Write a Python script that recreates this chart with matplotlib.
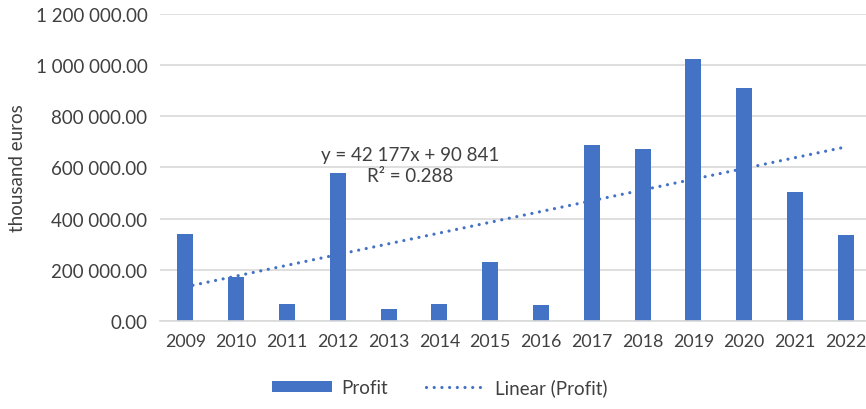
import numpy as np
import matplotlib
matplotlib.use("Agg")
import matplotlib.pyplot as plt
from matplotlib.ticker import FuncFormatter

# values (thousand euros)
years = ["2009", "2010", "2011", "2012", "2013", "2014", "2015",
         "2016", "2017", "2018", "2019", "2020", "2021", "2022"]
profit = [341000, 172000, 64000, 577000, 46000, 64000, 230000,
          61000, 687000, 674000, 1025000, 910000, 504000, 336000]
trend_label = "y = 42 177x + 90 841\nR² = 0.288"

bar_color = "#4472C4"
text_color = "#404040"
grid_color = "#D9D9D9"
fs = 13.5

plt.rcParams["font.family"] = ["Lato", "DejaVu Sans"]

fig = plt.figure(figsize=(8.66, 4.10), dpi=100)
ax = fig.add_axes([0.1848, 0.2154, 0.8152, 0.7473])

x = np.arange(len(years))
bars = ax.bar(x, profit, width=0.315, color=bar_color, label="Profit", zorder=2)

# linear trendline, x = 1..n as in Excel
k, b = np.polyfit(x + 1, profit, 1)
trend, = ax.plot(x, k * (x + 1) + b, color=bar_color, linestyle=(0, (0.01, 2.4)),
                 linewidth=2.3, dash_capstyle="round", label="Linear (Profit)",
                 zorder=3)

ax.text(4.42, 610000, trend_label, ha="center", va="center",
        fontsize=fs, color=text_color, linespacing=1.3)

ax.set_ylim(0, 1200000)
ax.set_xlim(-0.5, 13.4)
ax.set_yticks(np.arange(0, 1200001, 200000))
ax.yaxis.set_major_formatter(
    FuncFormatter(lambda v, p: f"{v:,.2f}".replace(",", " ")))
ax.set_xticks(x)
ax.set_xticklabels(years)
ax.tick_params(axis="both", length=0, labelsize=fs, colors=text_color)
ax.tick_params(axis="x", pad=9, labelsize=12.8)
ax.tick_params(axis="y", pad=9)

ax.grid(axis="y", color=grid_color, linewidth=1.2, zorder=0)
for s in ["top", "right", "left"]:
    ax.spines[s].set_visible(False)
ax.spines["bottom"].set_color(grid_color)
ax.spines["bottom"].set_linewidth(1.2)

ax.set_ylabel("thousand euros", fontsize=fs, color=text_color)
ax.yaxis.set_label_coords(-0.19, 0.5)

fig.legend([bars, trend], ["Profit", "Linear (Profit)"],
           loc="lower center", bbox_to_anchor=(0.508, -0.01), ncol=2,
           frameon=False, fontsize=fs, handlelength=3.2, handleheight=0.55,
           handletextpad=0.5, columnspacing=2.0, labelcolor=text_color)

fig.savefig("out.png", dpi=100)
